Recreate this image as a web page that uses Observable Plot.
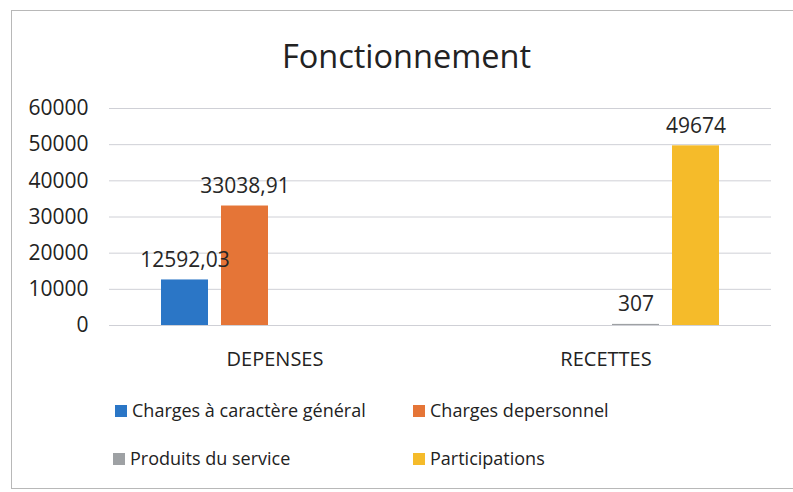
<!DOCTYPE html>
<html>
<head>
<meta charset="utf-8">
<script src="https://cdn.jsdelivr.net/npm/d3@7"></script>
<script src="https://cdn.jsdelivr.net/npm/@observablehq/plot@0.6"></script>
<style>
  html, body { margin: 0; padding: 0; background: #fff; width: 793px; height: 492px; overflow: hidden; font-family: "Open Sans", sans-serif; color: #262626; }
  #frame { position: absolute; left: 11px; top: 10px; width: 820px; height: 477px; border: 1px solid #b8b8b8; border-right: none; }
  #title { position: absolute; left: 10px; width: 793px; top: 36px; text-align: center; font-size: 32.5px; line-height: 40px; color: #222; }
  #chart { position: absolute; left: 0; top: 90px; }
  .leg { position: absolute; font-size: 18px; line-height: 24px; color: #222; white-space: nowrap; }
  .sw { display: inline-block; width: 12px; height: 12px; margin-right: 5px; vertical-align: 0px; }
</style>
</head>
<body>
<div id="frame"></div>
<div id="title">Fonctionnement</div>
<div id="chart"></div>
<div id="legend"></div>
<script>
const categories = ["DEPENSES", "RECETTES"];
const series = ["Charges à caractère général", "Charges depersonnel", "Produits du service", "Participations"];
const colors = ["#2b76c6", "#e57537", "#9ea1a4", "#f5bb2a"];
const depenses = [12592.03, 33038.91, null, null];
const recettes = [null, null, 307, 49674];
const yTicks = [0, 10000, 20000, 30000, 40000, 50000, 60000];

const data = [];
series.forEach((s, i) => {
  if (depenses[i] != null) data.push({cat: categories[0], series: s, value: depenses[i]});
  if (recettes[i] != null) data.push({cat: categories[1], series: s, value: recettes[i]});
});
const fmt = v => String(v).replace(".", ",");

const chart = Plot.plot({
  width: 793,
  height: 282,
  marginLeft: 108,
  marginRight: 22,
  marginTop: 18,
  marginBottom: 47,
  style: { fontFamily: "Open Sans, sans-serif", background: "transparent" },
  fx: { domain: categories, padding: 0, label: null },
  x: { domain: series, paddingInner: 0.22, paddingOuter: 0.83, axis: null },
  y: { domain: [0, 60000], ticks: yTicks, label: null },
  color: { domain: series, range: colors },
  marks: [
    Plot.ruleY(yTicks, { stroke: "#cfd0d6", strokeWidth: 1 }),
    Plot.axisY(yTicks, { tickSize: 0, tickPadding: 21, fontSize: 21, fill: "#222", label: null, tickFormat: d => String(d) }),
    Plot.axisFx({ anchor: "bottom", tickSize: 0, tickPadding: 26, fontSize: 20, fill: "#222", label: null }),
    Plot.barY(data, { fx: "cat", x: "series", y: "value", fill: d => d.series }),
    Plot.text(data, { fx: "cat", x: "series", y: "value", text: d => fmt(d.value), dy: -20, fontSize: 21, fill: "#262626" })
  ]
});
document.getElementById("chart").appendChild(chart);

const legendPos = [[115, 398], [413, 398], [113, 446], [413, 446]];
const leg = document.getElementById("legend");
series.forEach((s, i) => {
  const d = document.createElement("div");
  d.className = "leg";
  d.style.left = legendPos[i][0] + "px";
  d.style.top = legendPos[i][1] + "px";
  d.innerHTML = `<span class="sw" style="background:${colors[i]}"></span>${s}`;
  leg.appendChild(d);
});
</script>
</body>
</html>
